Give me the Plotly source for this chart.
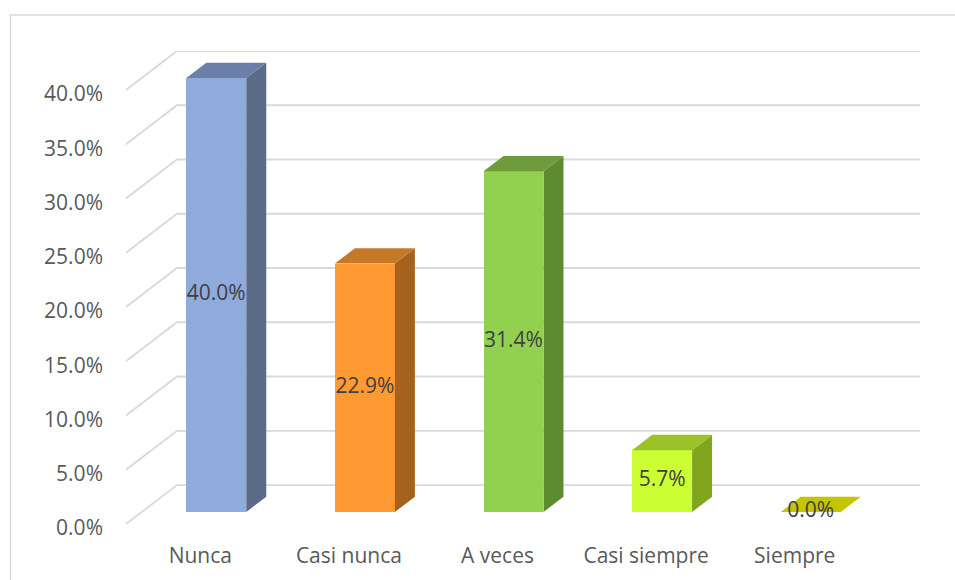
import plotly.graph_objects as go

# ---- data ----
categories = ["Nunca", "Casi nunca", "A veces", "Casi siempre", "Siempre"]
values = [40.0, 22.9, 31.4, 5.7, 0.0]
tick_values = [0, 5, 10, 15, 20, 25, 30, 35, 40]
tick_labels = ["0.0%", "5.0%", "10.0%", "15.0%", "20.0%", "25.0%", "30.0%", "35.0%", "40.0%"]
front_colors = ["#8FAADC", "#FF9A33", "#92D050", "#CCFF33", "#C4C400"]
top_colors = ["#6B7FA8", "#C47828", "#6E9C3C", "#9CC228", "#C4C400"]
side_colors = ["#5B6B8A", "#A5621F", "#5E8A32", "#82A51E", "#A5A500"]

# ---- pseudo-3D geometry (pixels -> data units) ----
W, H = 955, 580
U = 148.7      # px per category
V = 10.86      # px per percent
X0, Y0 = 200, 524   # pixel of (category 0, 0%) on the front floor edge
DX, DY = 51 / U, 39 / V          # depth of the whole floor
BX, BY = 16 / U, 12 / V          # offset of bar front face from front edge
BDX, BDY = 20 / U, 15.3 / V      # bar depth
BW = 60 / U                      # bar width

xmin, xmax = -0.5, len(categories) - 0.5 + DX
ymin, ymax = 0, max(tick_values) + DY
l = X0 + xmin * U
r = W - (X0 + xmax * U)
t = Y0 - ymax * V
b = H - Y0

fig = go.Figure()

# back wall + side wall gridlines (base axes, drawn underneath)
gx, gy = [], []
for v in tick_values:
    gx += [xmin, xmin + DX, xmax, None]
    gy += [v, v + DY, v + DY, None]
fig.add_trace(go.Scatter(x=gx, y=gy, mode="lines", line=dict(color="#D9D9D9", width=1.8),
                         hoverinfo="skip", showlegend=False, cliponaxis=False))

# bars: front faces (overlay axes, drawn on top of the grid)
fig.add_trace(go.Bar(x=[i + BX for i in range(len(categories))], y=values,
                     base=[BY] * len(values), width=BW,
                     marker=dict(color=front_colors, line=dict(width=0)),
                     hovertext=categories, hoverinfo="text+y", showlegend=False,
                     xaxis="x2", yaxis="y2"))

# side and top faces
for i, v in enumerate(values):
    cx = i + BX
    x_l, x_r = cx - BW / 2, cx + BW / 2
    y_b, y_t = BY, BY + v
    if v > 0:
        fig.add_trace(go.Scatter(
            x=[x_r, x_r + BDX, x_r + BDX, x_r, x_r],
            y=[y_b, y_b + BDY, y_t + BDY, y_t, y_b],
            fill="toself", fillcolor=side_colors[i], mode="lines",
            line=dict(width=0, color=side_colors[i]),
            hoverinfo="skip", showlegend=False, cliponaxis=False,
            xaxis="x2", yaxis="y2"))
    fig.add_trace(go.Scatter(
        x=[x_l, x_r, x_r + BDX, x_l + BDX, x_l],
        y=[y_t, y_t, y_t + BDY, y_t + BDY, y_t],
        fill="toself", fillcolor=top_colors[i], mode="lines",
        line=dict(width=0, color=top_colors[i]),
        hoverinfo="skip", showlegend=False, cliponaxis=False,
        xaxis="x2", yaxis="y2"))

# data labels
fig.add_trace(go.Scatter(
    x=[i + BX for i in range(len(categories))],
    y=[BY + v / 2 for v in values],
    text=[f"{v:.1f}%" for v in values], mode="text",
    textfont=dict(family="Open Sans", size=21, color="#404040"),
    hoverinfo="skip", showlegend=False, cliponaxis=False,
    xaxis="x2", yaxis="y2"))

pw = W - l - r
ph = H - t - b
def px_to_paper_x(px):
    return (px - l) / pw
def px_to_paper_y(py):
    return (H - b - py) / ph

fig.add_shape(type="rect", xref="paper", yref="paper",
              x0=px_to_paper_x(10), x1=px_to_paper_x(990),
              y0=px_to_paper_y(620), y1=px_to_paper_y(14.5),
              line=dict(color="#D9D9D9", width=1.5), layer="below")

fig.update_layout(
    width=W, height=H,
    margin=dict(l=l, r=r, t=t, b=b, pad=0),
    paper_bgcolor="white", plot_bgcolor="white",
    font=dict(family="Open Sans", size=21, color="#595959"),
    bargap=0,
    xaxis=dict(range=[xmin, xmax], tickvals=list(range(len(categories))), ticktext=categories,
               showgrid=False, zeroline=False, showline=False, ticks="",
               ticklabelstandoff=17, fixedrange=True),
    yaxis=dict(range=[ymin, ymax], tickvals=tick_values, ticktext=tick_labels,
               showgrid=False, zeroline=False, showline=False, ticks="",
               ticklabelstandoff=22, ticklabelshift=4, fixedrange=True),
    xaxis2=dict(range=[xmin, xmax], overlaying="x", visible=False, fixedrange=True),
    yaxis2=dict(range=[ymin, ymax], overlaying="y", visible=False, fixedrange=True),
)

fig.write_html("out.html")
